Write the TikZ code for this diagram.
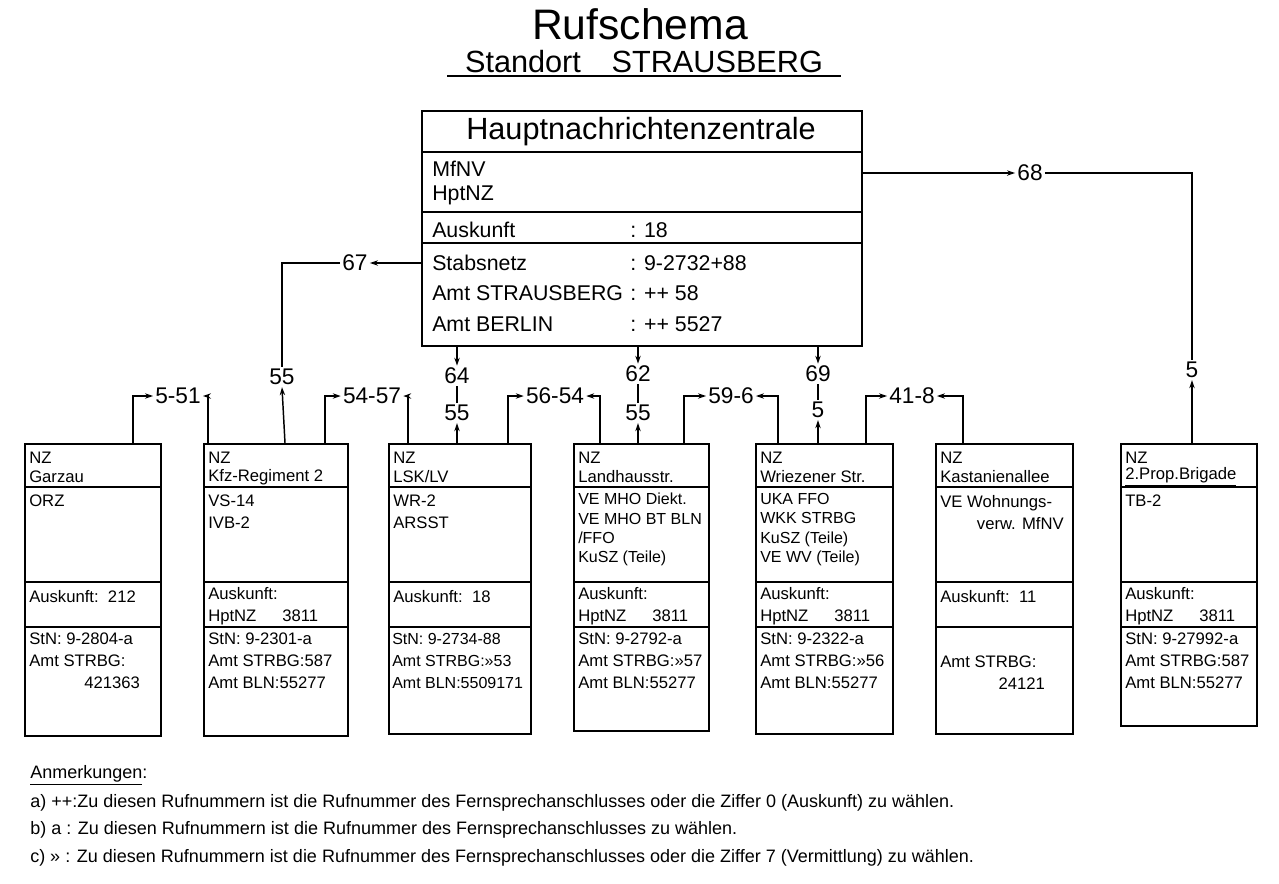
\documentclass[tikz,border=0pt]{standalone}
\usepackage{fontspec}
\setmainfont{Liberation Sans}
\usetikzlibrary{arrows.meta,calc,positioning}
\tikzset{
  frame/.style={draw, line width=1.4pt, inner sep=0pt, anchor=north west},
  lbl/.style={inner sep=1.5pt, font=\fontsize{17}{19}\selectfont},
  txt/.style={anchor=west, inner sep=0pt, align=left, font=\fontsize{12.5}{16.5}\selectfont},
  bigtxt/.style={anchor=west, inner sep=0pt, align=left, font=\fontsize{16}{18}\selectfont},
  arr/.style={line width=1.1pt, -{Stealth[length=6pt,width=4pt]}},
  ln/.style={line width=1.1pt}
}
\begin{document}
\begin{tikzpicture}[x=0.75pt,y=-0.75pt]
  \useasboundingbox (0,0) rectangle (1279,883);
  % Title
  \node[font=\fontsize{32}{34}\selectfont] (title) at (640,24) {Rufschema};
  \node[font=\fontsize{23}{26}\selectfont] (place) at (644,62) {Standort\quad STRAUSBERG};
  \draw[line width=1.2pt] (447,76) -- (841,76);
  % Main exchange
  \node[frame, minimum width=330pt, minimum height=176.25pt] (hnz) at (421,110) {};
  \foreach \y in {152,212,243} \draw[line width=1.4pt] (421,\y) -- (861,\y);
  \node[font=\fontsize{23}{26}\selectfont] (hnzt) at (641,132) {Hauptnachrichtenzentrale};
  \node[bigtxt] at (432,183) {MfNV\\HptNZ};
  \node[bigtxt] at (432,230) {Auskunft};
  \node[bigtxt] at (630,230) {: 18};
  \node[bigtxt] at (432,263) {Stabsnetz};
  \node[bigtxt] at (630,263) {: 9-2732+88};
  \node[bigtxt] at (432,293) {Amt STRAUSBERG};
  \node[bigtxt] at (630,293) {: ++ 58};
  \node[bigtxt] at (432,324) {Amt BERLIN};
  \node[bigtxt] at (630,324) {: ++ 5527};
  % Subordinate exchanges
  \foreach \n/\l/\r/\b in {1/24/160/735,2/203/347/735,3/388/530/733,4/573/708/730,5/755/892/733,6/935/1072/733,7/1120/1256/725}{
    \node[frame, minimum width={(\r-\l)*0.75pt}, minimum height={(\b-443)*0.75pt}] (b\n) at (\l,443) {};
    \foreach \y in {487,582,627} \draw[line width=1.4pt] (\l,\y) -- (\r,\y);
    \node[txt] at (\l+5,458) {NZ};
  }
  \node[txt] at (29,477) {Garzau};
  \node[txt] at (208,477) {Kfz-Regiment 2};
  \node[txt] at (393,477) {LSK/LV};
  \node[txt] at (578,477) {Landhausstr.};
  \node[txt] at (760,477) {Wriezener Str.};
  \node[txt] at (940,477) {Kastanienallee};
  \node[txt] at (1125,477) {\underline{2.Prop.Brigade}};
  \node[txt, anchor=north west] at (29,495) {ORZ};
  \node[txt, anchor=north west] at (208,495) {VS-14\\IVB-2};
  \node[txt, anchor=north west] at (393,495) {WR-2\\ARSST};
  \node[txt, anchor=north west, font=\fontsize{12}{14.5}\selectfont] at (578,493) {VE MHO Diekt.\\VE MHO BT BLN\\/FFO\\KuSZ (Teile)};
  \node[txt, anchor=north west, font=\fontsize{12}{14.5}\selectfont] at (760,493) {UKA FFO\\WKK STRBG\\KuSZ (Teile)\\VE WV (Teile)};
  \node[txt, anchor=north west] at (940,495) {VE Wohnungs-\\\hspace*{2.2em}verw. MfNV};
  \node[txt, anchor=north west] at (1125,495) {TB-2};
  \node[txt] at (29,597) {Auskunft:\ \ 212};
  \node[txt] at (208,606) {Auskunft:\\HptNZ\quad\ \ 3811};
  \node[txt] at (393,597) {Auskunft:\ \ 18};
  \node[txt] at (578,606) {Auskunft:\\HptNZ\quad\ \ 3811};
  \node[txt] at (760,606) {Auskunft:\\HptNZ\quad\ \ 3811};
  \node[txt] at (940,597) {Auskunft:\ \ 11};
  \node[txt] at (1125,606) {Auskunft:\\HptNZ\quad\ \ 3811};
  \node[txt, anchor=north west] at (29,633) {StN: 9-2804-a\\Amt STRBG:\\\hspace*{3.3em}421363};
  \node[txt, anchor=north west] at (208,633) {StN: 9-2301-a\\Amt STRBG:587\\Amt BLN:55277};
  \node[txt, anchor=north west, font=\fontsize{12}{16.5}\selectfont] at (392,633) {StN: 9-2734-88\\Amt STRBG:»53\\Amt BLN:5509171};
  \node[txt, anchor=north west] at (578,633) {StN: 9-2792-a\\Amt STRBG:»57\\Amt BLN:55277};
  \node[txt, anchor=north west] at (760,633) {StN: 9-2322-a\\Amt STRBG:»56\\Amt BLN:55277};
  \node[txt, anchor=north west] at (940,656) {Amt STRBG:\\\hspace*{3.5em}24121};
  \node[txt, anchor=north west] at (1125,633) {StN: 9-27992-a\\Amt STRBG:587\\Amt BLN:55277};
  % Number labels
  \node[lbl] (l67) at (355,263) {67};
  \node[lbl] (l55a) at (282,377) {55};
  \node[lbl] (l68) at (1030,173) {68};
  \node[lbl] (l5g) at (1192,370) {5};
  \node[lbl] (l64) at (457,376) {64};
  \node[lbl] (l55b) at (457,413) {55};
  \node[lbl] (l62) at (638,374) {62};
  \node[lbl] (l55c) at (638,413) {55};
  \node[lbl] (l69) at (818,374) {69};
  \node[lbl] (l5e) at (818,410) {5};
  \node[lbl] (l551) at (178,396) {5-51};
  \node[lbl] (l5457) at (372,396) {54-57};
  \node[lbl] (l5654) at (555,396) {56-54};
  \node[lbl] (l596) at (731,396) {59-6};
  \node[lbl] (l418) at (912,396) {41-8};
  % Connectors to the main exchange
  \draw[arr] ($(hnz.north west)+(0,153)$) -- (l67.east);
  \draw[ln] (l67.west) -| (l55a.north);
  \draw[arr] ($(b2.north west)+(82,0)$) -- (l55a.south);
  \draw[arr] ($(hnz.north east)+(0,63)$) -- (l68.west);
  \draw[ln] (l68.east) -| (l5g.north);
  \draw[arr] ($(b7.north west)+(72,0)$) -- (l5g.south);
  \draw[arr] ($(hnz.south west)+(36,0)$) -- (l64.north);
  \draw[ln] (l64.south) -- (l55b.north);
  \draw[arr] ($(b3.north west)+(69,0)$) -- (l55b.south);
  \draw[arr] ($(hnz.south west)+(217,0)$) -- (l62.north);
  \draw[ln] (l62.south) -- (l55c.north);
  \draw[arr] ($(b4.north west)+(65,0)$) -- (l55c.south);
  \draw[arr] ($(hnz.south west)+(397,0)$) -- (l69.north);
  \draw[ln] (l69.south) -- (l5e.north);
  \draw[arr] ($(b5.north west)+(63,0)$) -- (l5e.south);
  % Connectors between neighbours
  \draw[arr] ($(b1.north west)+(109,0)$) |- (l551.west);
  \draw[arr] ($(b2.north west)+(5,0)$) |- (l551.east);
  \draw[arr] ($(b2.north west)+(122,0)$) |- (l5457.west);
  \draw[arr] ($(b3.north west)+(20,0)$) |- (l5457.east);
  \draw[arr] ($(b3.north west)+(120,0)$) |- (l5654.west);
  \draw[arr] ($(b4.north west)+(27,0)$) |- (l5654.east);
  \draw[arr] ($(b4.north west)+(111,0)$) |- (l596.west);
  \draw[arr] ($(b5.north west)+(23,0)$) |- (l596.east);
  \draw[arr] ($(b5.north west)+(111,0)$) |- (l418.west);
  \draw[arr] ($(b6.north west)+(28,0)$) |- (l418.east);
  % Notes
  \node[txt, font=\fontsize{13.5}{15}\selectfont] (notes) at (30,775) {\underline{Anmerkungen}:};
  \node[txt, font=\fontsize{13.5}{15}\selectfont] at (30,803) {a) ++:Zu diesen Rufnummern ist die Rufnummer des Fernsprechanschlusses oder die Ziffer 0 (Auskunft) zu wählen.};
  \node[txt, font=\fontsize{13.5}{15}\selectfont] at (30,830) {b) a : Zu diesen Rufnummern ist die Rufnummer des Fernsprechanschlusses zu wählen.};
  \node[txt, font=\fontsize{13.5}{15}\selectfont] at (30,858) {c) » : Zu diesen Rufnummern ist die Rufnummer des Fernsprechanschlusses oder die Ziffer 7 (Vermittlung) zu wählen.};
\end{tikzpicture}
\end{document}
